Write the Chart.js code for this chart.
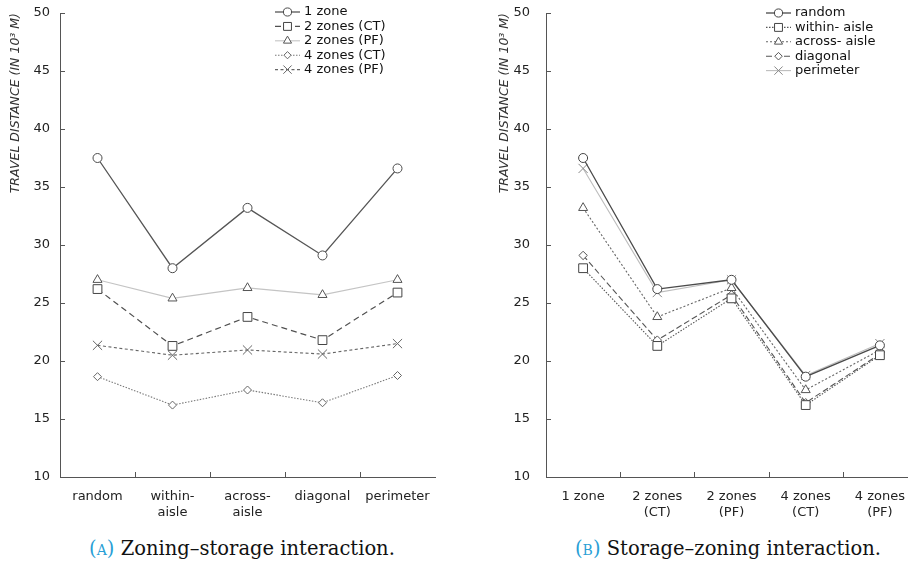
<!DOCTYPE html>
<html>
<head>
<meta charset="utf-8">
<script src="https://cdn.jsdelivr.net/npm/chart.js@4/dist/chart.umd.min.js"></script>
<style>
  html, body { margin: 0; padding: 0; background: #fff; }
  body { position: relative; width: 908px; height: 566px; overflow: hidden; }
  canvas { position: absolute; top: 0; }
  #zoningChart { left: 0; }
  #storageChart { left: 486px; }
  .caption {
    position: absolute; top: 537px; transform: translateX(-50%);
    font-family: "DejaVu Serif", serif; font-size: 19.5px; color: #111; white-space: nowrap;
  }
  .caption span { color: #2a9fd6; font-variant: small-caps; }
</style>
</head>
<body>
<canvas id="zoningChart" width="454" height="530"></canvas>
<canvas id="storageChart" width="440" height="530"></canvas>
<div class="caption" style="left:242px"><span>(a)</span> Zoning–storage interaction.</div>
<div class="caption" style="left:728px"><span>(b)</span> Storage–zoning interaction.</div>

<script>
// Storage policies and zoning configurations
const storageNames = ['random', 'within- aisle', 'across- aisle', 'diagonal', 'perimeter'];
const storageTicks = ['random', ['within-', 'aisle'], ['across-', 'aisle'], 'diagonal', 'perimeter'];
const zoningNames = ['1 zone', '2 zones (CT)', '2 zones (PF)', '4 zones (CT)', '4 zones (PF)'];
const zoningTicks = ['1 zone', ['2 zones', '(CT)'], ['2 zones', '(PF)'], ['4 zones', '(CT)'], ['4 zones', '(PF)']];

// Travel distance (10^3 m) per zoning configuration, ordered by storage policy
const oneZone     = [37.5, 28.0, 33.2, 29.1, 36.6];
const twoZonesCT  = [26.2, 21.3, 23.8, 21.8, 25.9];
const twoZonesPF  = [27.0, 25.4, 26.3, 25.7, 27.0];
const fourZonesCT = [18.65, 16.2, 17.5, 16.4, 18.75];
const fourZonesPF = [21.35, 20.5, 20.95, 20.6, 21.5];

const yMin = 10, yMax = 50, yStep = 5;

const zoningSeries = [oneZone, twoZonesCT, twoZonesPF, fourZonesCT, fourZonesPF];

// Line and marker styles
const zoningStyles = [
  { borderColor: '#555',    borderWidth: 1.3, borderDash: [],     pointStyle: 'circle',   pointRadius: 4.5, pointBorderColor: '#4a4a4a' },
  { borderColor: '#505050', borderWidth: 1.2, borderDash: [6, 4], pointStyle: 'rect',     pointRadius: 6.2, pointBorderColor: '#444' },
  { borderColor: '#c4c4c4', borderWidth: 1.1, borderDash: [],     pointStyle: 'triangle', pointRadius: 5.2, pointBorderColor: '#555' },
  { borderColor: '#7a7a7a', borderWidth: 1.1, borderDash: [1.5, 1.5], pointStyle: 'rectRot', pointRadius: 4, pointBorderColor: '#666' },
  { borderColor: '#666',    borderWidth: 1.1, borderDash: [3, 2.5], pointStyle: 'crossRot', pointRadius: 6.5, pointBorderColor: '#666' }
];
const storageStyles = [
  { borderColor: '#4a4a4a', borderWidth: 1.3, borderDash: [],     pointStyle: 'circle',   pointRadius: 4.5, pointBorderColor: '#444' },
  { borderColor: '#555',    borderWidth: 1.1, borderDash: [1.5, 1.5], pointStyle: 'rect', pointRadius: 6.2, pointBorderColor: '#444' },
  { borderColor: '#666',    borderWidth: 1.1, borderDash: [2, 2], pointStyle: 'triangle', pointRadius: 5.2, pointBorderColor: '#555' },
  { borderColor: '#555',    borderWidth: 1.1, borderDash: [6, 3], pointStyle: 'rectRot',  pointRadius: 4.2, pointBorderColor: '#555' },
  { borderColor: '#bdbdbd', borderWidth: 1.1, borderDash: [],     pointStyle: 'crossRot', pointRadius: 6.5, pointBorderColor: '#888' }
];

function makeDataset(label, data, style) {
  return Object.assign({
    label, data,
    pointBackgroundColor: '#fff',
    pointBorderWidth: 1,
    tension: 0,
    fill: false,
    clip: false
  }, style);
}

// Legend: line sample with marker, stacked vertically
const lineLegend = {
  id: 'lineLegend',
  afterDraw(chart, args, opts) {
    const ctx = chart.ctx;
    ctx.save();
    chart.data.datasets.forEach((ds, i) => {
      const y = opts.y + i * opts.spacing;
      const x0 = opts.x, x1 = opts.x + opts.lineLength;
      ctx.strokeStyle = ds.borderColor;
      ctx.lineWidth = ds.borderWidth;
      ctx.setLineDash(ds.borderDash || []);
      ctx.beginPath(); ctx.moveTo(x0, y); ctx.lineTo(x1, y); ctx.stroke();
      ctx.setLineDash([]);
      ctx.fillStyle = '#fff';
      ctx.strokeStyle = ds.pointBorderColor;
      ctx.lineWidth = ds.pointBorderWidth;
      Chart.helpers.drawPoint(ctx, { pointStyle: ds.pointStyle, radius: ds.pointRadius * 0.9, rotation: 0, borderWidth: ds.pointBorderWidth }, (x0 + x1) / 2, y);
      ctx.fillStyle = opts.color;
      ctx.font = opts.font;
      ctx.textBaseline = 'middle';
      ctx.textAlign = 'left';
      ctx.fillText(ds.label, x1 + opts.gap, y);
    });
    ctx.restore();
  }
};

// Short tick marks pointing into the plot area
const innerTicks = {
  id: 'innerTicks',
  afterDraw(chart, args, opts) {
    const { ctx, chartArea, scales: { x, y } } = chart;
    ctx.save();
    ctx.strokeStyle = opts.color;
    ctx.lineWidth = 1;
    ctx.beginPath();
    y.ticks.forEach((t, i) => {
      const py = Math.round(y.getPixelForTick(i)) + 0.5;
      ctx.moveTo(chartArea.left, py);
      ctx.lineTo(chartArea.left + opts.length, py);
    });
    for (let i = 1; i < x.ticks.length; i++) {
      const px = Math.round((x.getPixelForTick(i - 1) + x.getPixelForTick(i)) / 2) + 0.5;
      ctx.moveTo(px, chartArea.bottom);
      ctx.lineTo(px, chartArea.bottom - opts.length);
    }
    ctx.stroke();
    ctx.restore();
  }
};

function zeroPads(s) {
  s.paddingTop = 0; s.paddingBottom = 0; s.paddingLeft = 0; s.paddingRight = 0;
}

function buildOptions(cfg) {
  return {
    responsive: false,
    animation: false,
    devicePixelRatio: 1,
    layout: { padding: { top: 13, right: cfg.padRight, left: 0, bottom: 0 } },
    plugins: {
      legend: { display: false },
      tooltip: { enabled: false },
      lineLegend: { x: cfg.legendX, y: cfg.legendY, spacing: 14.4, lineLength: 25, gap: 4, color: '#111', font: '13px "DejaVu Sans"' },
      innerTicks: { color: '#555', length: 5 }
    },
    scales: {
      x: {
        type: 'category',
        offset: true,
        grid: { display: false, drawTicks: false },
        border: { display: true, color: '#555', width: 1 },
        ticks: { color: '#222', padding: 11, maxRotation: 0, autoSkip: false, font: { family: 'DejaVu Sans', size: 13, lineHeight: 1.25 } },
        afterFit: s => { s.height = 53; zeroPads(s); }
      },
      y: {
        min: yMin, max: yMax,
        grid: { display: false, drawTicks: false },
        border: { display: true, color: '#555', width: 1 },
        ticks: { stepSize: yStep, color: '#222', padding: cfg.tickPad, font: { family: 'DejaVu Sans', size: 13 } },
        title: {
          display: true, align: 'end',
          text: 'TRAVEL DISTANCE (IN 10³ M)',
          color: '#333',
          font: { family: 'DejaVu Sans', size: 12.5, style: 'italic' },
          padding: { top: cfg.titlePad, bottom: 0 }
        },
        afterFit: s => { s.width = 60; zeroPads(s); }
      }
    }
  };
}

// (A) zoning lines across storage policies
new Chart(document.getElementById('zoningChart'), {
  type: 'line',
  data: {
    labels: storageTicks,
    datasets: zoningSeries.map((s, i) => makeDataset(zoningNames[i], s, zoningStyles[i]))
  },
  options: buildOptions({ padRight: 19, legendX: 275, legendY: 12, tickPad: 10, titlePad: 8.5 }),
  plugins: [lineLegend, innerTicks]
});

// (B) storage lines across zoning configurations
new Chart(document.getElementById('storageChart'), {
  type: 'line',
  data: {
    labels: zoningTicks,
    datasets: storageNames.map((name, j) => makeDataset(name, zoningSeries.map(s => s[j]), storageStyles[j]))
  },
  options: buildOptions({ padRight: 9, legendX: 766 - 486, legendY: 13, tickPad: 16, titlePad: 11.5 }),
  plugins: [lineLegend, innerTicks]
});
</script>
</body>
</html>
